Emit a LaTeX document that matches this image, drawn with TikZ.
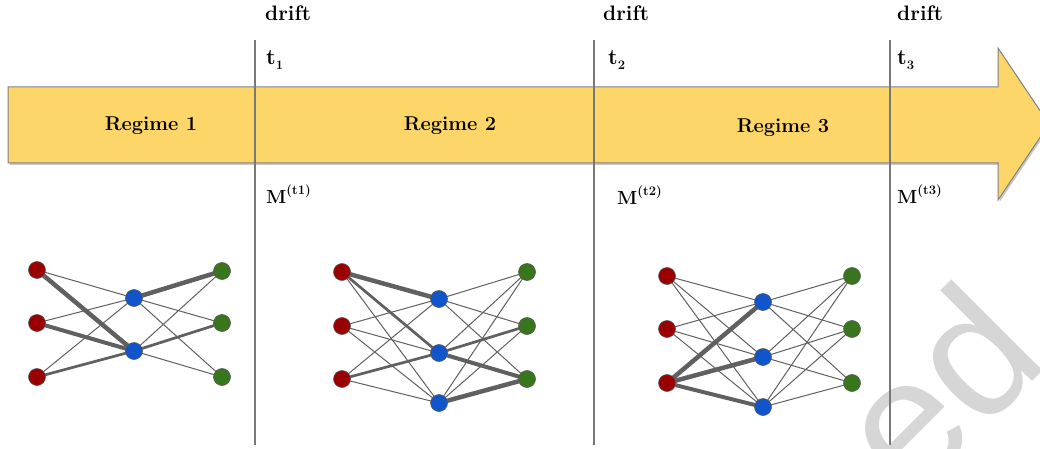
\documentclass[tikz,border=0pt]{standalone}
\usepackage{fontspec}
\newfontfamily\wmfont{Liberation Sans}
\definecolor{arrowfill}{RGB}{252,214,104}
\definecolor{arrowline}{RGB}{130,130,130}
\definecolor{nred}{RGB}{153,0,0}
\definecolor{nblue}{RGB}{17,85,204}
\definecolor{ngreen}{RGB}{56,118,29}
\definecolor{edgecol}{RGB}{96,96,96}
\definecolor{wmgray}{RGB}{214,214,214}
\definecolor{vline}{RGB}{120,120,120}
\pgfdeclarelayer{bg}
\pgfsetlayers{bg,main}
\tikzset{
  nd/.style={circle, minimum size=17pt, inner sep=0pt, draw=gray!70!black, line width=0.6pt},
  rn/.style={nd, fill=nred},
  bn/.style={nd, fill=nblue},
  gn/.style={nd, fill=ngreen},
  thinedge/.style={draw=edgecol, line width=1pt},
  medge/.style={draw=edgecol, line width=2.7pt},
  tedge/.style={draw=edgecol, line width=4.5pt},
  lab/.style={inner sep=0pt, anchor=base west, font=\fontsize{21}{21}\selectfont\bfseries},
  tlab/.style={inner sep=0pt, anchor=base west, font=\fontsize{22}{22}\selectfont\bfseries},
  mlab/.style={inner sep=0pt, anchor=base west, font=\fontsize{19}{19}\selectfont\bfseries},
  reg/.style={inner sep=0pt, font=\fontsize{20}{20}\selectfont\bfseries},
  timeline/.style={draw=vline, line width=1.1pt}
}
\newcommand{\tsub}[1]{t\raisebox{-5pt}{\fontsize{13}{13}\selectfont #1}}
\newcommand{\msup}[1]{M\raisebox{9pt}{\fontsize{13}{13}\selectfont (t#1)}}
\begin{document}
\begin{tikzpicture}[x=1pt,y=-1pt]
\useasboundingbox (0,0) rectangle (1040,449);
\begin{pgfonlayer}{bg}
\fill[white] (0,0) rectangle (1040,449);
\end{pgfonlayer}
\clip (0,0) rectangle (1040,449);
% watermark fragment
\node[inner sep=0pt, anchor=base west, rotate=45, text=wmgray, font=\wmfont\fontsize{178}{178}\selectfont] (wm) at (911,503) {ed};
% big arrow
\fill[gray!45, shift={(1.5,2)}] (8,87) -- (998,87) -- (998,48) -- (1049,124) -- (998,200) -- (998,163) -- (8,163) -- cycle;
\draw[fill=arrowfill, draw=arrowline, line width=1pt] (8,87) -- (998,87) -- (998,48) -- (1049,124) -- (998,200) -- (998,163) -- (8,163) -- cycle;
% time lines
\coordinate (l1t) at (255,40); \coordinate (l1b) at (255,445);
\coordinate (l2t) at (594,40); \coordinate (l2b) at (594,445);
\coordinate (l3t) at (890,40); \coordinate (l3b) at (890,445);
\draw[timeline] (l1t) -- (l1b);
\draw[timeline] (l2t) -- (l2b);
\draw[timeline] (l3t) -- (l3b);
% labels
\node[lab] (d1) at (265,21) {drift};
\node[lab] (d2) at (603,21) {drift};
\node[lab] (d3) at (897,21) {drift};
\node[tlab] (t1) at (266,65) {\tsub{1}};
\node[tlab] (t2) at (608,65) {\tsub{2}};
\node[tlab] (t3) at (897,65) {\tsub{3}};
\node[reg] (r1) at (151,126) {Regime 1};
\node[reg] (r2) at (450,126) {Regime 2};
\node[reg] (r3) at (783,128) {Regime 3};
\node[mlab] (m1) at (266,203) {\msup{1}};
\node[mlab] (m2) at (617,204) {\msup{2}};
\node[mlab] (m3) at (897,203) {\msup{3}};
% graph 1
\node[rn] (a-r1) at (37,270) {}; \node[rn] (a-r2) at (37,323) {}; \node[rn] (a-r3) at (37,377) {};
\node[bn] (a-b1) at (134,298) {}; \node[bn] (a-b2) at (134,351) {};
\node[gn] (a-g1) at (222,271) {}; \node[gn] (a-g2) at (222,323) {}; \node[gn] (a-g3) at (222,377) {};
% graph 2
\node[rn] (b-r1) at (342,272) {}; \node[rn] (b-r2) at (342,326) {}; \node[rn] (b-r3) at (342,379) {};
\node[bn] (b-b1) at (439,299) {}; \node[bn] (b-b2) at (439,353) {}; \node[bn] (b-b3) at (439,403) {};
\node[gn] (b-g1) at (527,272) {}; \node[gn] (b-g2) at (527,326) {}; \node[gn] (b-g3) at (527,379) {};
% graph 3
\node[rn] (c-r1) at (667,276) {}; \node[rn] (c-r2) at (667,329) {}; \node[rn] (c-r3) at (667,383) {};
\node[bn] (c-b1) at (763,302) {}; \node[bn] (c-b2) at (763,357) {}; \node[bn] (c-b3) at (763,407) {};
\node[gn] (c-g1) at (852,276) {}; \node[gn] (c-g2) at (852,329) {}; \node[gn] (c-g3) at (852,383) {};
\begin{pgfonlayer}{bg}
  \foreach \i in {1,2,3} \foreach \j in {1,2} {
    \draw[thinedge] (a-r\i.center) -- (a-b\j.center);
    \draw[thinedge] (a-b\j.center) -- (a-g\i.center);
  }
  \foreach \i in {1,2,3} \foreach \j in {1,2,3} {
    \draw[thinedge] (b-r\i.center) -- (b-b\j.center);
    \draw[thinedge] (b-b\j.center) -- (b-g\i.center);
    \draw[thinedge] (c-r\i.center) -- (c-b\j.center);
    \draw[thinedge] (c-b\j.center) -- (c-g\i.center);
  }
  % graph 1 weights
  \draw[tedge] (a-r1.center) -- (a-b2.center);
  \draw[tedge, line width=4pt] (a-r2.center) -- (a-b2.center);
  \draw[tedge] (a-b1.center) -- (a-g1.center);
  \draw[medge] (a-r3.center) -- (a-b2.center);
  \draw[medge] (a-b2.center) -- (a-g2.center);
  % graph 2 weights
  \draw[tedge] (b-r1.center) -- (b-b1.center);
  \draw[medge] (b-r1.center) -- (b-b2.center);
  \draw[medge] (b-r3.center) -- (b-b2.center);
  \draw[medge] (b-b2.center) -- (b-g2.center);
  \draw[tedge, line width=4pt] (b-b2.center) -- (b-g3.center);
  \draw[tedge] (b-b3.center) -- (b-g3.center);
  % graph 3 weights
  \draw[tedge] (c-r3.center) -- (c-b1.center);
  \draw[tedge] (c-r3.center) -- (c-b2.center);
  \draw[tedge, line width=4pt] (c-r3.center) -- (c-b3.center);
\end{pgfonlayer}
\end{tikzpicture}
\end{document}
